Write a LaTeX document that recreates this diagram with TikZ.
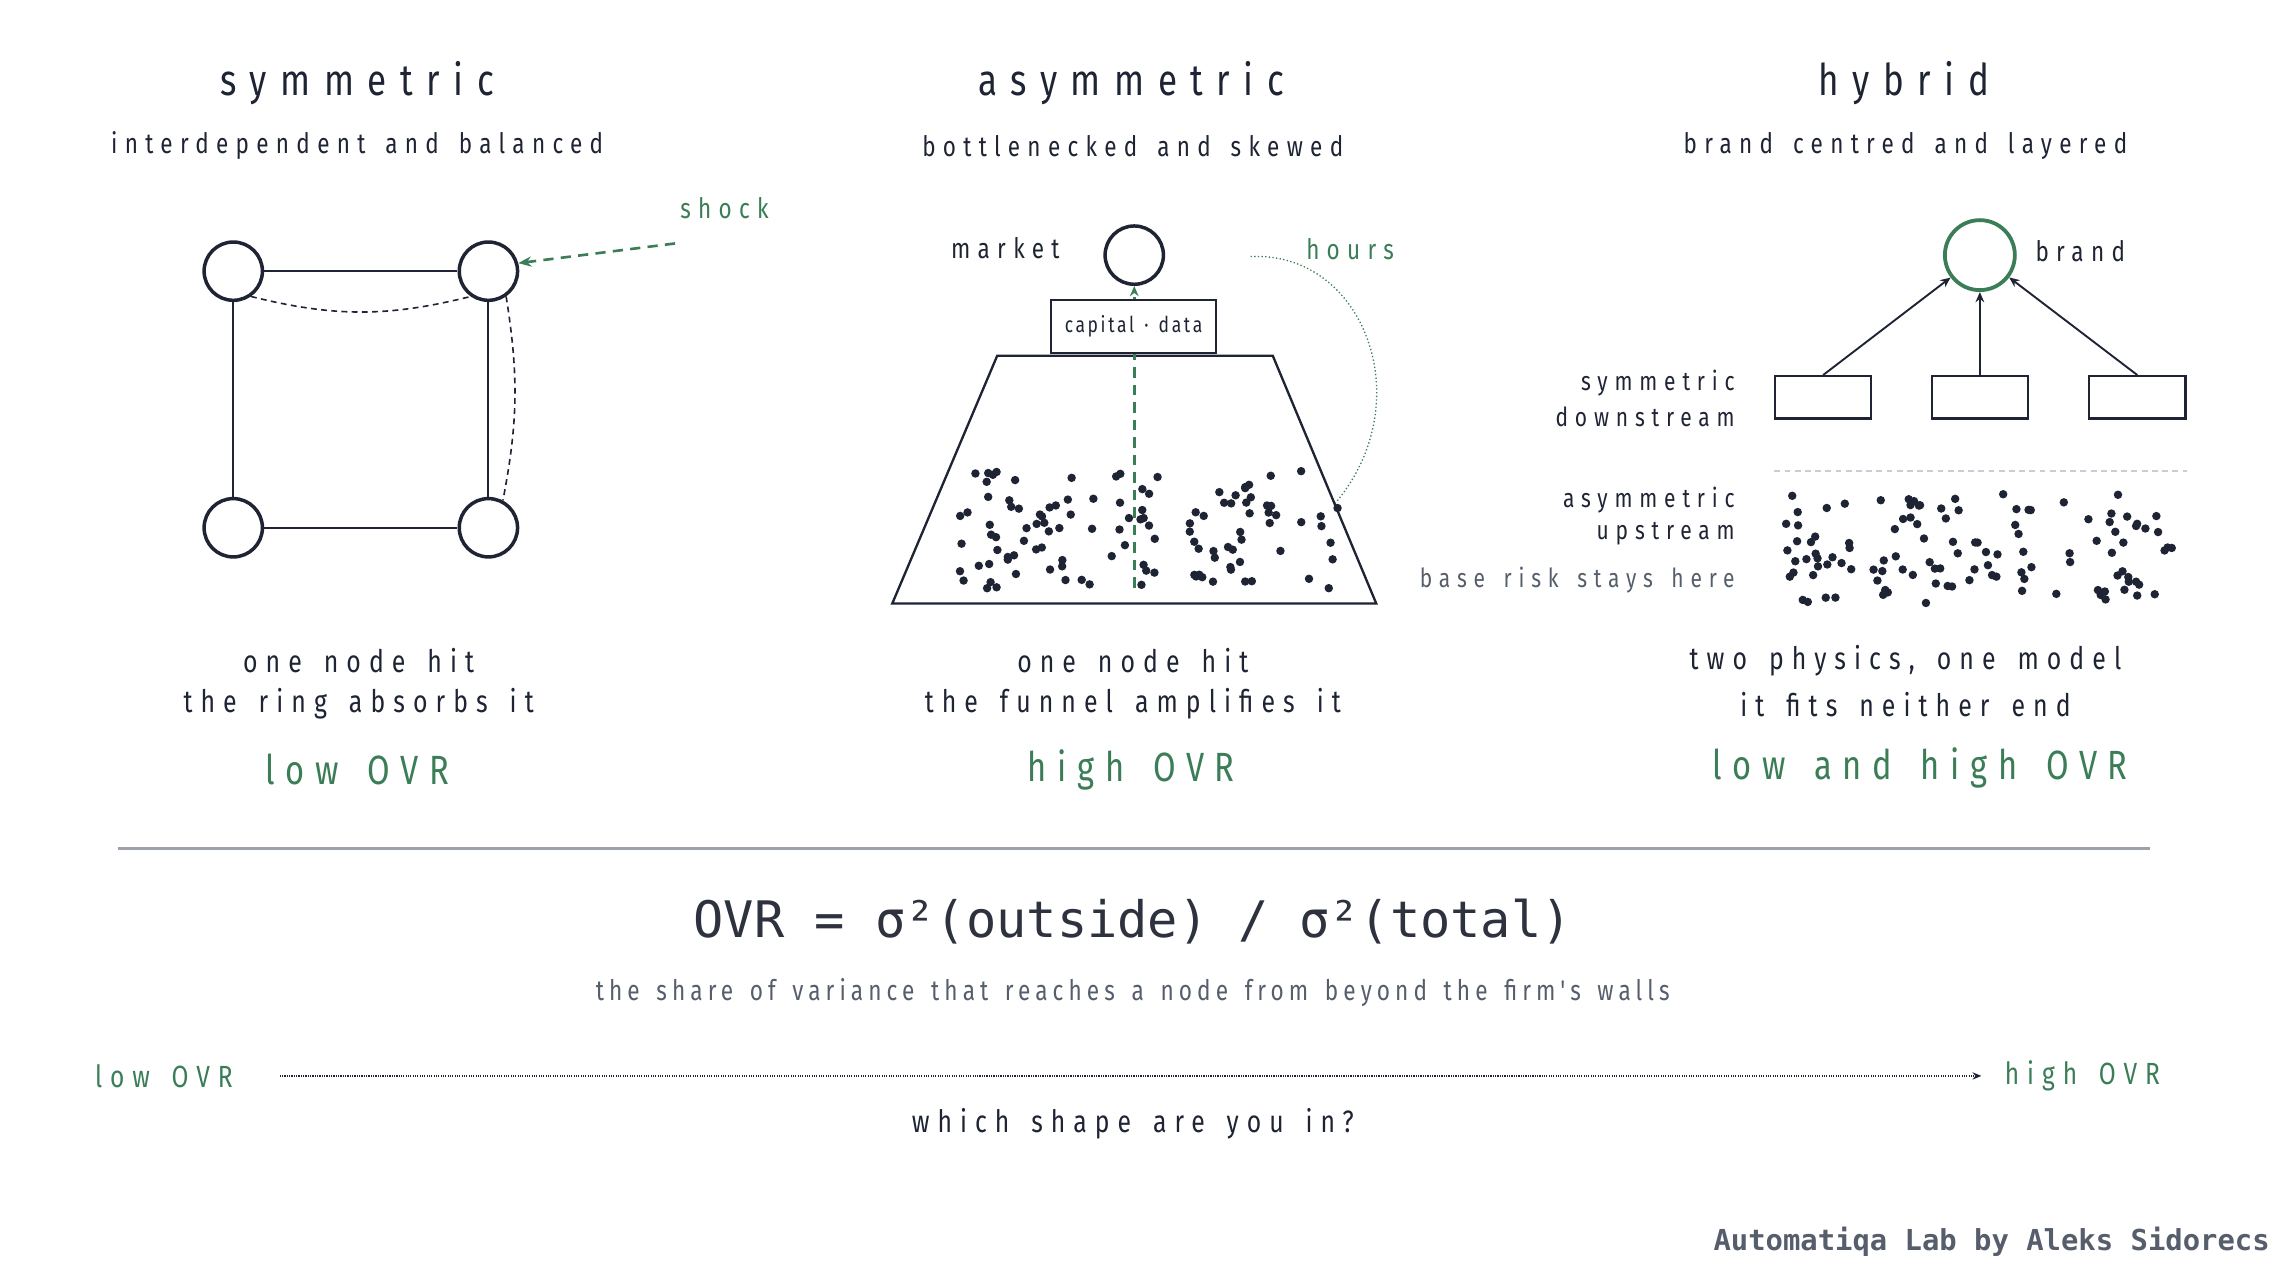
\documentclass[tikz,border=0pt]{standalone}
\usepackage{fontspec}
\usetikzlibrary{arrows.meta}
\newfontfamily\hand[FakeStretch=0.8,LetterSpace=26,WordSpace=1.5]{Fira Sans}
\newfontfamily\handtitle[FakeStretch=0.8,LetterSpace=31,WordSpace=1.5]{Fira Sans}
\newfontfamily\handmid[FakeStretch=0.8,LetterSpace=18,WordSpace=1.5]{Fira Sans}
\newfontfamily\handsmall[FakeStretch=0.8,LetterSpace=12,WordSpace=1.4]{Fira Sans}
\newfontfamily\monof{DejaVu Sans Mono}
\definecolor{ink}{HTML}{1E2433}
\definecolor{grn}{HTML}{3A7D57}
\definecolor{gry}{HTML}{565E6C}
\definecolor{rule}{HTML}{9CA2AC}
\definecolor{sep}{HTML}{C9CDD6}
\newcommand{\fs}[1]{\fontsize{#1}{#1}\selectfont}
\newcommand{\dotcloud}[5]{%
  \foreach \k in {1,...,#5}{%
    \pgfmathsetmacro\px{#1+(#2-#1)*rnd}%
    \pgfmathsetmacro\py{#3+(#4-#3)*rnd}%
    \fill[ink] (\px,\py) circle[radius=2.9pt];}}
\tikzset{
  txt/.style={inner sep=0pt, text=ink, font=\hand\fs{19.3}},
  title/.style={txt, font=\handtitle\fs{30}},
  ovr/.style={txt, text=grn, font=\hand\fs{28}},
  ringnode/.style={circle, draw=ink, line width=2.4pt, minimum size=40pt, inner sep=0pt},
  edge/.style={draw=ink, line width=1.5pt},
  soft/.style={draw=ink, line width=1.1pt, dashed, dash pattern=on 4pt off 3pt},
  hbox/.style={draw=ink, line width=1.5pt, minimum width=66pt, minimum height=29pt, inner sep=0pt},
}
\begin{document}
\begin{tikzpicture}[x=1pt,y=-1pt]
\useasboundingbox (0,0) rectangle (1568,882);
\fill[white] (0,0) rectangle (1568,882);
\pgfmathsetseed{23}
% ---------- titles ----------
\node[title] (t1) at (245,57) {symmetric};
\node[title] (t2) at (776,57) {asymmetric};
\node[title] (t3) at (1306,57) {hybrid};
\node[txt] (s1) at (245,100) {interdependent and balanced};
\node[txt] (s2) at (777,100) {bottlenecked and skewed};
\node[txt] (s3) at (1307,100) {brand centred and layered};
% ---------- symmetric ring ----------
\node[ringnode] (tl) at (160,186) {};
\node[ringnode] (tr) at (335,186) {};
\node[ringnode] (bl) at (160,362) {};
\node[ringnode] (br) at (335,362) {};
\draw[edge] (tl) -- (tr);
\draw[edge] (tr) -- (br);
\draw[edge] (br) -- (bl);
\draw[edge] (bl) -- (tl);
\draw[soft] (tl.-55) to[bend right=14] (tr.-125);
\draw[soft] (tr.-55) to[bend left=10] (br.62);
\node[txt, text=grn] (shock) at (497,143) {shock};
\coordinate (shockstart) at (463,167);
\draw[grn, line width=1.8pt, dash pattern=on 7pt off 5pt, -{Stealth[length=9pt,width=7pt]}] (shockstart) -- (tr.15);
% ---------- asymmetric funnel ----------
\draw[ink, line width=1.6pt] (684,244) -- (873,244) -- (944,414) -- (612,414) -- cycle;
\dotcloud{658}{705}{323}{404}{30}
\dotcloud{710}{800}{322}{402}{40}
\dotcloud{815}{918}{323}{404}{48}
\node[ringnode] (market) at (778,175) {};
\node[txt, anchor=east] (marketlbl) at (727,170) {market};
\coordinate (funnelbase) at (778,403);
\draw[grn, line width=1.8pt, dash pattern=on 7pt off 5pt, -{Stealth[length=7pt,width=6pt]}] (funnelbase) -- (market.south);
\node[draw=ink, fill=white, line width=1.5pt, minimum width=113pt, minimum height=36pt, inner sep=0pt, font=\handsmall\fs{15}, text=ink] (gate) at (777.5,224) {capital · data};
\node[txt, text=grn] (hours) at (926,171) {hours};
\coordinate (hoursend) at (916,345);
\draw[grn, line width=0.9pt, dash pattern=on 0.9pt off 1.6pt] (hours.west) ++(-38,5) coordinate (hoursstart)
  .. controls (935,172) and (975,275) .. (hoursend);
% ---------- hybrid ----------
\node[circle, draw=grn, line width=2.6pt, minimum size=48pt, inner sep=0pt] (brand) at (1358,175) {};
\node[txt, anchor=west] (brandlbl) at (1396,172) {brand};
\node[hbox] (b1) at (1250.5,272.5) {};
\node[hbox] (b2) at (1358,272.5) {};
\node[hbox] (b3) at (1466,272.5) {};
\draw[ink, line width=1.3pt, -{Stealth[length=7pt,width=6pt]}] (b1.north) -- (brand);
\draw[ink, line width=1.3pt, -{Stealth[length=7pt,width=6pt]}] (b2.north) -- (brand);
\draw[ink, line width=1.3pt, -{Stealth[length=7pt,width=6pt]}] (b3.north) -- (brand);
\node[txt, anchor=east, font=\hand\fs{18}] (l1) at (1190,263) {symmetric};
\node[txt, anchor=east, font=\hand\fs{18}] (l2) at (1190,286) {downstream};
\node[txt, anchor=east, font=\hand\fs{18}] (l3) at (1190,343) {asymmetric};
\node[txt, anchor=east, font=\hand\fs{18}] (l4) at (1190,366) {upstream};
\node[txt, anchor=east, font=\hand\fs{18}, text=gry] (l5) at (1190,398) {base risk stays here};
\coordinate (sepA) at (1217,323);
\coordinate (sepB) at (1500,323);
\draw[sep, line width=1.3pt, dash pattern=on 4pt off 3pt] (sepA) -- (sepB);
\dotcloud{1223}{1272}{338}{414}{28}
\dotcloud{1285}{1395}{338}{414}{55}
\dotcloud{1410}{1491}{338}{414}{34}
% ---------- captions ----------
\node[txt, font=\hand\fs{21.3}] (c1a) at (246,453) {one node hit};
\node[txt, font=\hand\fs{21.3}] (c1b) at (246,483) {the ring absorbs it};
\node[ovr] (o1) at (245,528) {low OVR};
\node[txt, font=\hand\fs{21.3}] (c2a) at (777,453) {one node hit};
\node[txt, font=\hand\fs{21.3}] (c2b) at (777,483) {the funnel amplifies it};
\node[ovr] (o2) at (776,528) {high OVR};
\node[txt, font=\hand\fs{21.3}] (c3a) at (1307,453) {two physics, one model};
\node[txt, font=\hand\fs{21.3}] (c3b) at (1307,483) {it fits neither end};
\node[ovr] (o3) at (1317,527) {low and high OVR};
% ---------- rule ----------
\coordinate (ruleA) at (81,582);
\coordinate (ruleB) at (1475,582);
\draw[rule, line width=1.4pt] (ruleA) -- (ruleB);
% ---------- formula ----------
\node[inner sep=0pt, text=ink!85!gray, font=\monof\fs{34.5}] (formula) at (777,632) {OVR = σ²(outside) / σ²(total)};
\node[inner sep=0pt, text=gry, font=\handmid\fs{19.4}] (share) at (777,681) {the share of variance that reaches a node from beyond the firm's walls};
\node[txt, text=grn, font=\hand\fs{21}, anchor=west] (lowaxis) at (65,738) {low OVR};
\node[txt, text=grn, font=\hand\fs{21}, anchor=west] (highaxis) at (1375,738) {high OVR};
\draw[ink, line width=0.9pt, dash pattern=on 0.8pt off 0.8pt, shorten <=32pt, shorten >=16pt, -{Stealth[length=6pt,width=5pt]}] (lowaxis.east) -- (highaxis.west);
\node[txt, font=\hand\fs{21.2}] (question) at (777,771) {which shape are you in?};
\node[inner sep=0pt, anchor=east, text=gry, font=\monof\bfseries\fs{19.8}] (footer) at (1557,852) {Automatiqa Lab by Aleks Sidorecs};
\end{tikzpicture}
\end{document}
